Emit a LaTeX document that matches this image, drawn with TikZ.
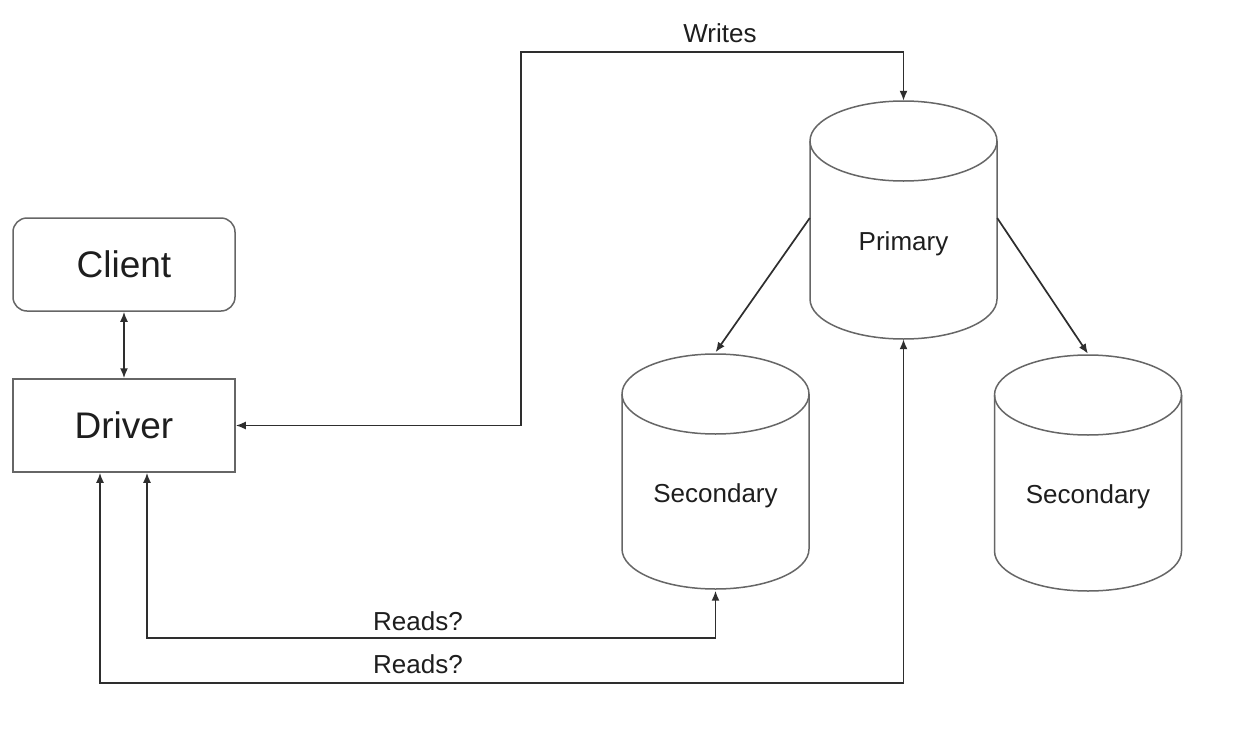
\documentclass[tikz,border=0pt]{standalone}
\usepackage{fontspec}
\setmainfont{Liberation Sans}
\usetikzlibrary{arrows.meta}
\definecolor{linec}{HTML}{2E2E2E}
\definecolor{boxc}{HTML}{666666}
\definecolor{txtc}{HTML}{1E1E1E}
\tikzset{
  big/.style={font=\fontsize{37}{40}\selectfont, text=txtc},
  small/.style={font=\fontsize{26}{30}\selectfont, text=txtc},
  boxnode/.style={draw=boxc, line width=1.5pt, minimum width=222pt, minimum height=93pt, inner sep=0pt, big},
  cylbody/.style={inner sep=0pt, minimum width=187pt, minimum height=238pt},
  conn/.style={draw=linec, line width=1.7pt, arrows={-Latex[length=10pt,width=8pt]}},
  bconn/.style={draw=linec, line width=1.7pt, arrows={Latex[length=10pt,width=8pt]-Latex[length=10pt,width=8pt]}},
}
% cylinder: name, center x, top y, bottom y
\newcommand\dbcylinder[4]{%
  \node[cylbody] (#1) at (#2,{(#3+#4)/2}) {};
  \draw[boxc, line width=1.5pt] (#2,#3+40) ellipse [x radius=93.5pt, y radius=40pt];
  \draw[boxc, line width=1.5pt] (#2-93.5,#3+40) -- (#2-93.5,#4-40)
     arc[start angle=180, end angle=360, x radius=93.5pt, y radius=40pt]
     -- (#2+93.5,#3+40);
}
\begin{document}
\begin{tikzpicture}[x=1pt,y=-1pt]
\useasboundingbox (0,0) rectangle (1235,731);
\fill[white] (0,0) rectangle (1235,731);

\node[boxnode, rounded corners=14pt] (client) at (124,264.5) {Client};
\node[boxnode] (driver) at (124,425.5) {Driver};

\dbcylinder{prim}{903.5}{101}{339}
\dbcylinder{secA}{715.5}{354}{589}
\dbcylinder{secB}{1088}{355}{591}

\node[small, anchor=base] (primtxt) at (903.5,250) {Primary};
\node[small, anchor=base] (secAtxt) at (715.5,502) {Secondary};
\node[small, anchor=base] (secBtxt) at (1088,503) {Secondary};

% client <-> driver
\draw[bconn] (client) -- (driver);

% writes
\coordinate (w1) at (521,52);
\draw[bconn] (driver.east) -| (w1) -| (prim.north);
\node[small, anchor=base] (writes) at (720,42) {Writes};

% primary -> secondaries
\draw[conn] ([yshift=2pt]prim.west) -- (secA.north);
\draw[conn] ([yshift=2pt]prim.east) -- (secB.north);

% reads
\coordinate (r1) at (715.5,638);
\coordinate (r2) at (903.5,683);
\draw[bconn] ([xshift=23pt]driver.south) |- (r1) -- (secA.south);
\draw[bconn] ([xshift=-24pt]driver.south) |- (r2) -- (prim.south);
\node[small, anchor=base] (reads1) at (418,630) {Reads?};
\node[small, anchor=base] (reads2) at (418,673) {Reads?};
\end{tikzpicture}
\end{document}
